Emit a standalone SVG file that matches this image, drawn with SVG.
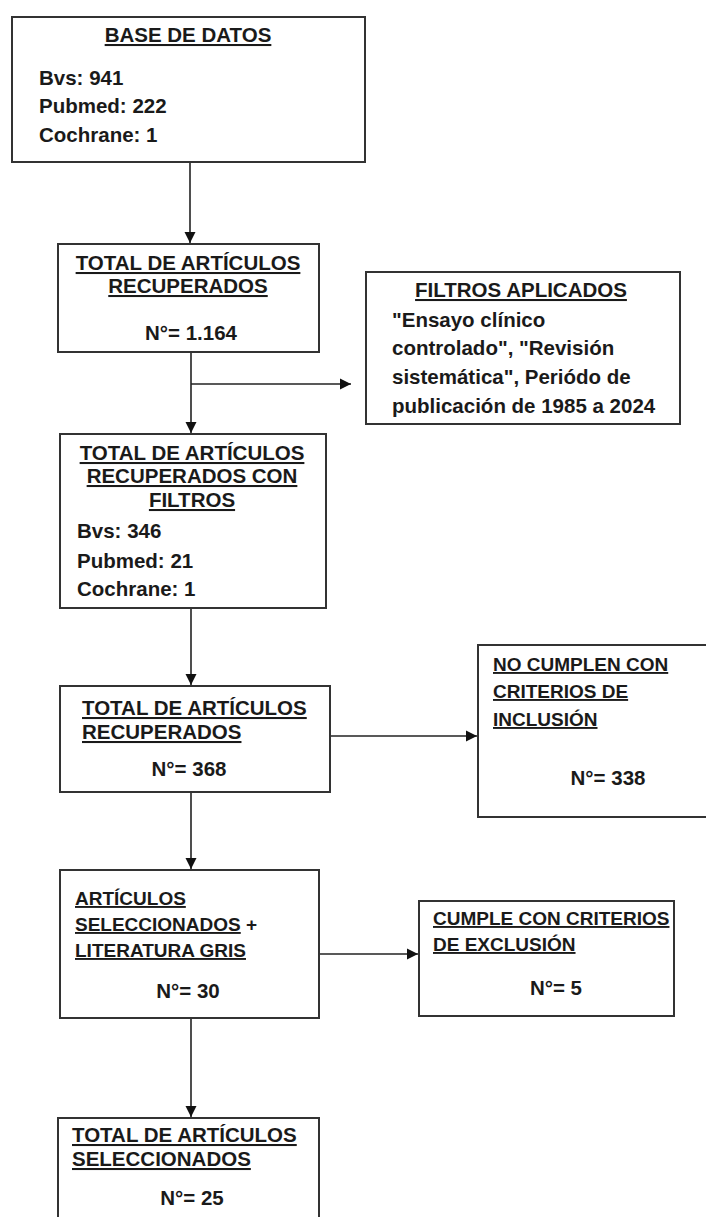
<svg xmlns="http://www.w3.org/2000/svg" width="706" height="1217" viewBox="0 0 706 1217">
<style>
.box{fill:#fff;stroke:#333;stroke-width:2}
.t{font-family:"Liberation Sans",Arial,sans-serif;font-weight:bold;font-size:20.5px;fill:#1a1a1a}
.s{font-size:19px}
.u{text-decoration:underline}
.m{text-anchor:middle}
.c{stroke:#222;stroke-width:1.6;fill:none;marker-end:url(#ah)}
</style>
<defs>
<marker id="ah" markerUnits="userSpaceOnUse" markerWidth="12" markerHeight="12" refX="11" refY="6" orient="auto">
<path d="M0,0.5 L11,6 L0,11.5 z" fill="#111"/>
</marker>
</defs>
<rect width="706" height="1217" fill="#fff"/>
<g id="connectors">
<line class="c" x1="190" y1="162" x2="190" y2="243"/>
<line class="c" x1="191" y1="352" x2="191" y2="433"/>
<line class="c" x1="191" y1="384" x2="351" y2="384"/>
<line class="c" x1="191" y1="608" x2="191" y2="685"/>
<line class="c" x1="330" y1="736" x2="477" y2="736"/>
<line class="c" x1="191" y1="792" x2="191" y2="869"/>
<line class="c" x1="319" y1="954" x2="418" y2="954"/>
<line class="c" x1="191" y1="1018" x2="191" y2="1117"/>
</g>
<g id="n1">
<rect class="box" x="12" y="17" width="353" height="145"/>
<text class="t u m" x="188" y="42">BASE DE DATOS</text>
<text class="t" x="39" y="85">Bvs: 941</text>
<text class="t" x="39" y="113">Pubmed: 222</text>
<text class="t" x="39" y="142">Cochrane: 1</text>
</g>
<g id="n2">
<rect class="box" x="58" y="244" width="261" height="108"/>
<text class="t u m" x="188" y="270">TOTAL DE ARTÍCULOS</text>
<text class="t u m" x="188" y="293">RECUPERADOS</text>
<text class="t m" x="191" y="340">N°= 1.164</text>
</g>
<g id="n3">
<rect class="box" x="366" y="272" width="314" height="152"/>
<text class="t u m" x="521" y="297">FILTROS APLICADOS</text>
<text class="t" x="392" y="327">"Ensayo clínico</text>
<text class="t" x="392" y="355">controlado", "Revisión</text>
<text class="t" x="392" y="384">sistemática", Periódo de</text>
<text class="t" x="392" y="413">publicación de 1985 a 2024</text>
</g>
<g id="n4">
<rect class="box" x="60" y="434" width="266" height="174"/>
<text class="t u m" x="192" y="460">TOTAL DE ARTÍCULOS</text>
<text class="t u m" x="192" y="483">RECUPERADOS CON</text>
<text class="t u m" x="192" y="507">FILTROS</text>
<text class="t" x="77" y="538">Bvs: 346</text>
<text class="t" x="77" y="568">Pubmed: 21</text>
<text class="t" x="77" y="596">Cochrane: 1</text>
</g>
<g id="n5">
<rect class="box" x="60" y="686" width="270" height="106"/>
<text class="t u" x="82" y="715">TOTAL DE ARTÍCULOS</text>
<text class="t u" x="82" y="739">RECUPERADOS</text>
<text class="t m" x="189" y="776">N°= 368</text>
</g>
<g id="n6">
<rect class="box" x="478" y="645" width="240" height="172"/>
<text class="t s u" x="493" y="671">NO CUMPLEN CON</text>
<text class="t s u" x="493" y="698">CRITERIOS DE</text>
<text class="t s u" x="493" y="726">INCLUSIÓN</text>
<text class="t m" x="608" y="785">N°= 338</text>
</g>
<g id="n7">
<rect class="box" x="60" y="870" width="259" height="148"/>
<text class="t s u" x="75" y="905">ARTÍCULOS</text>
<text class="t s" x="75" y="931"><tspan class="u">SELECCIONADOS</tspan> +</text>
<text class="t s u" x="75" y="957">LITERATURA GRIS</text>
<text class="t m" x="188" y="998">N°= 30</text>
</g>
<g id="n8">
<rect class="box" x="419" y="901" width="255" height="115"/>
<text class="t s u" x="433" y="925">CUMPLE CON CRITERIOS</text>
<text class="t s u" x="433" y="951">DE EXCLUSIÓN</text>
<text class="t m" x="556" y="995">N°= 5</text>
</g>
<g id="n9">
<rect class="box" x="58" y="1118" width="261" height="130"/>
<text class="t u" x="72" y="1142">TOTAL DE ARTÍCULOS</text>
<text class="t u" x="72" y="1166">SELECCIONADOS</text>
<text class="t m" x="192" y="1205">N°= 25</text>
</g>
</svg>
